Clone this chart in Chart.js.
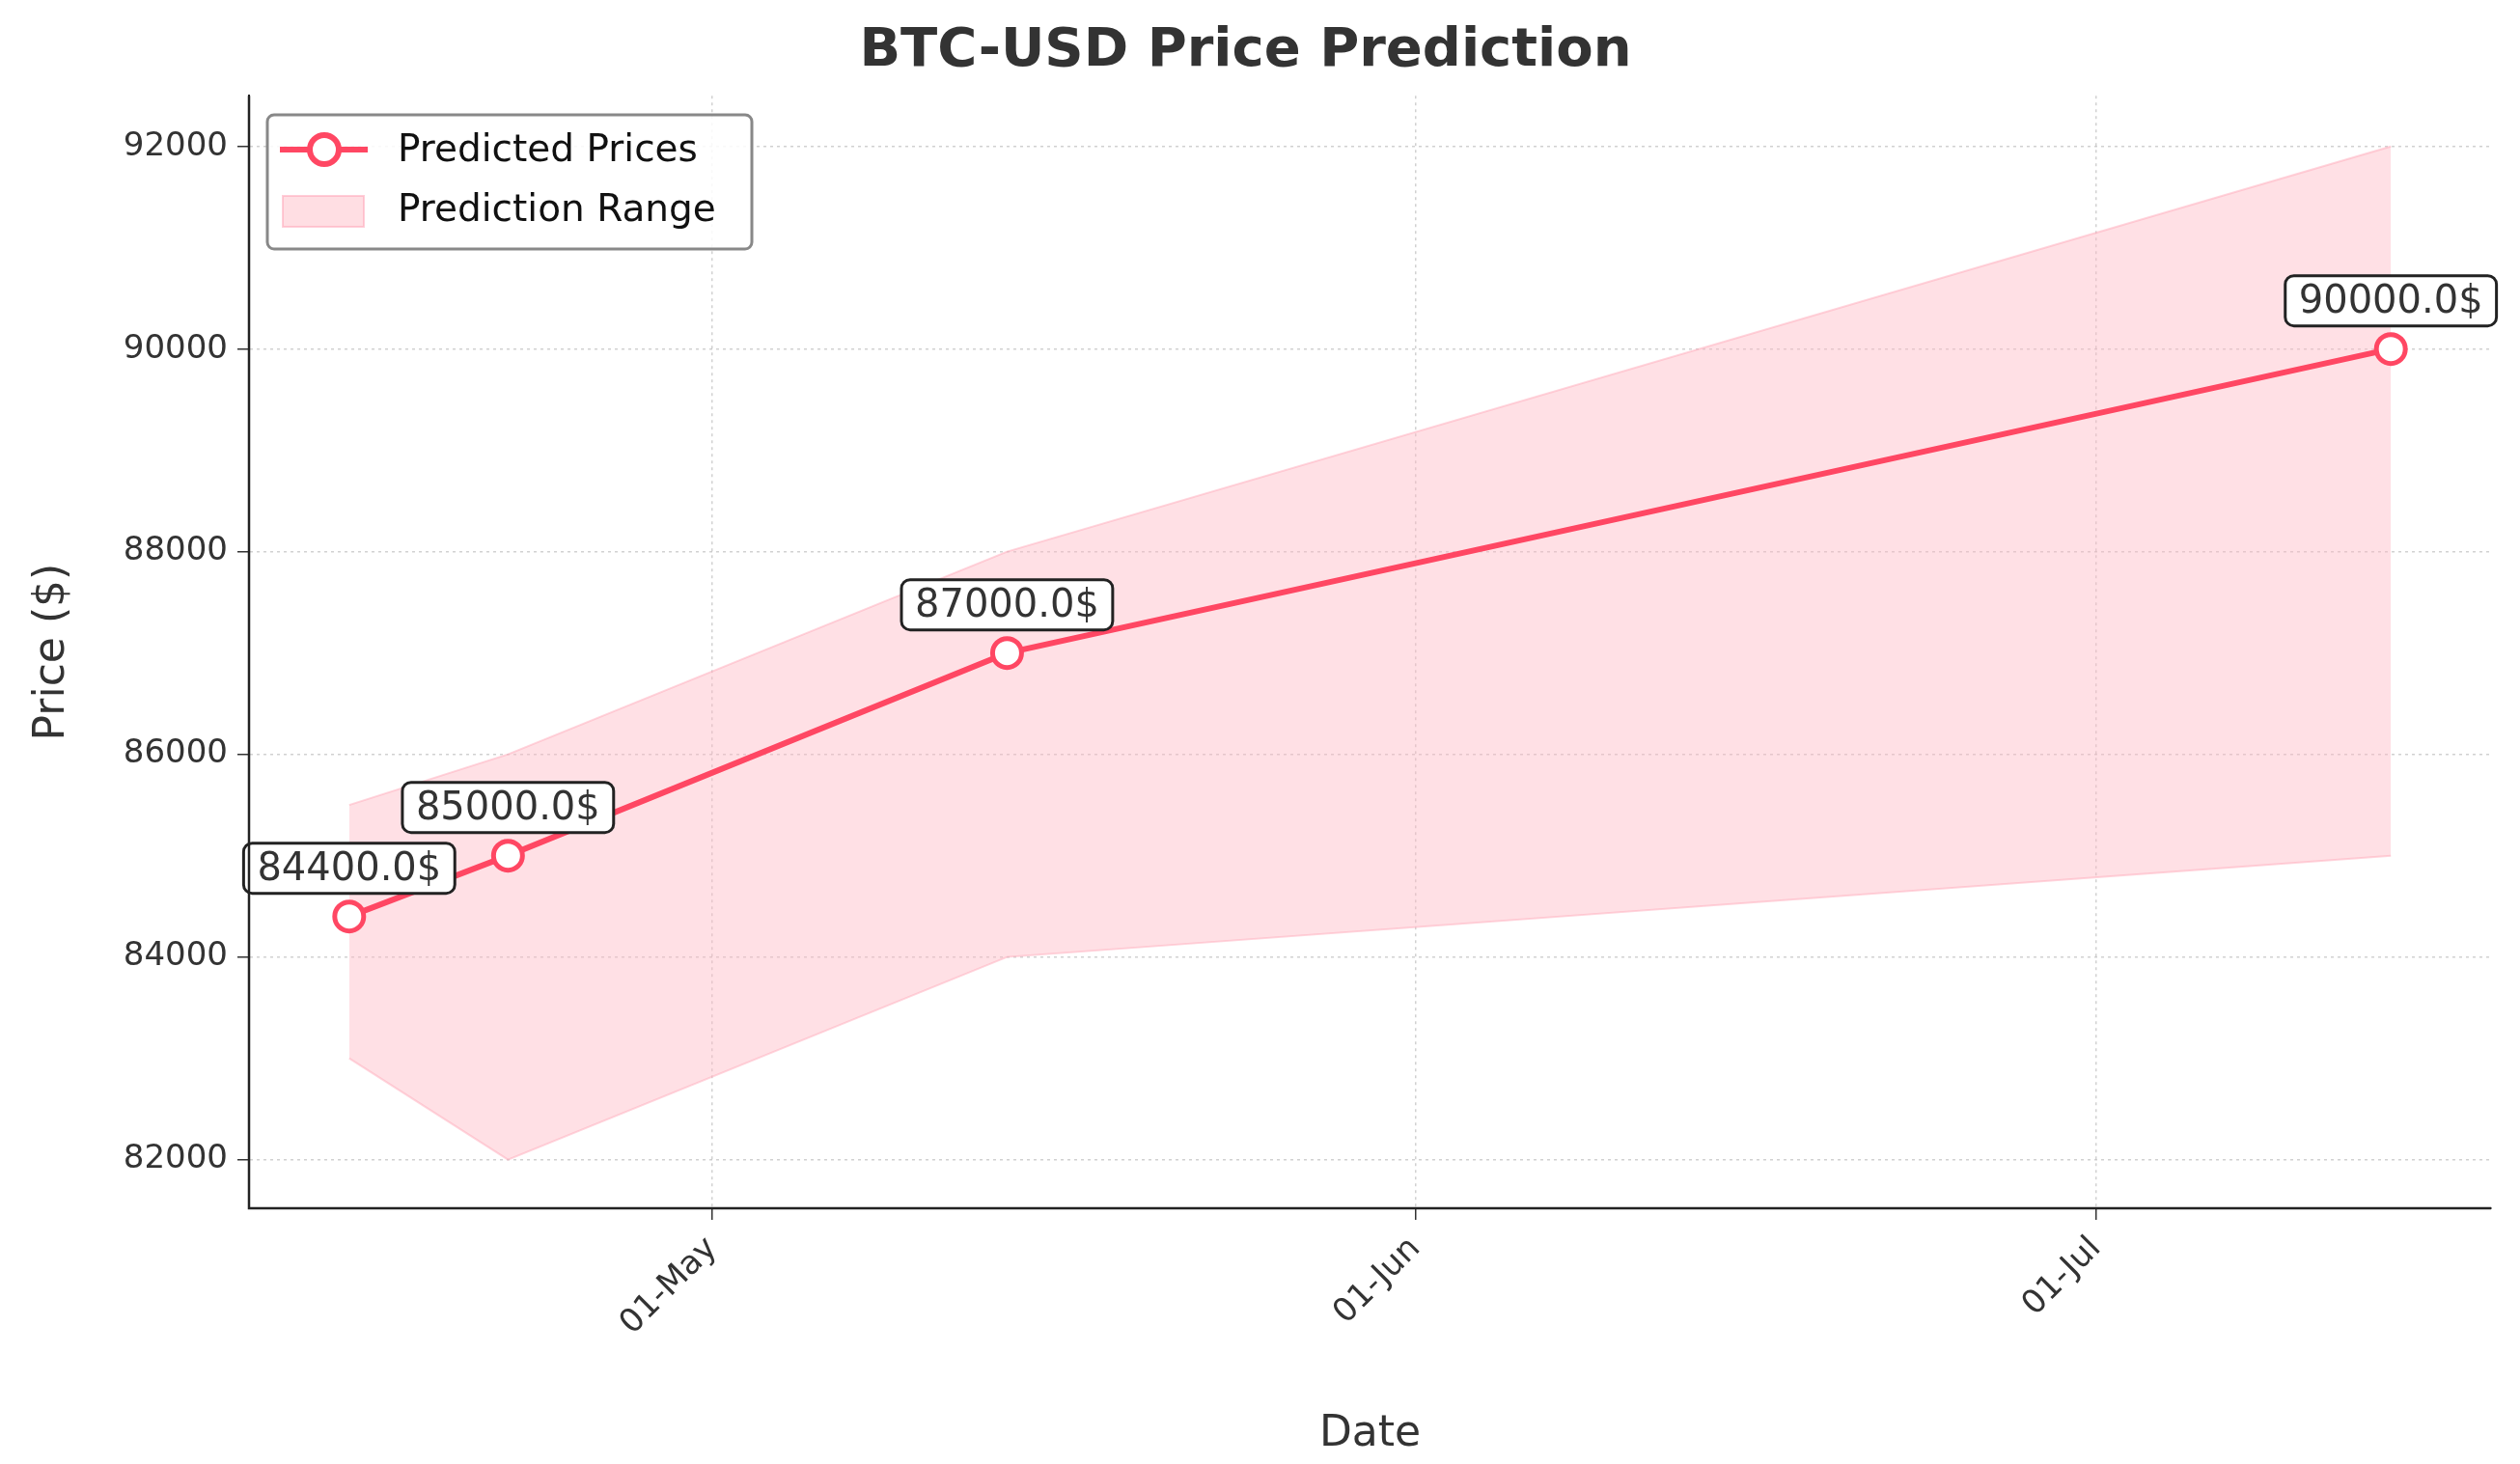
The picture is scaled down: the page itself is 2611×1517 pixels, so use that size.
<!DOCTYPE html>
<html><head><meta charset="utf-8">
<script src="https://cdn.jsdelivr.net/npm/chart.js@4/dist/chart.umd.min.js"></script>
<style>html,body{margin:0;padding:0;background:#fff}#w{width:2611px;height:1517px}</style>
</head><body><div id="w"><canvas id="c"></canvas></div>
<script>
const dates = ['2025-04-15','2025-04-22','2025-05-14','2025-07-14'];
const predicted = [84400, 85000, 87000, 90000];
const upper = [85500, 86000, 88000, 92000];
const lower = [83000, 82000, 84000, 85000];
const tickDates = ['2025-05-01','2025-06-01','2025-07-01'];
const tickLabels = ['01-May','01-Jun','01-Jul'];
const yTicks = [82000,84000,86000,88000,90000,92000];

const ts = d => Date.parse(d+'T00:00:00Z');
const xs = dates.map(ts);
const F = 'DejaVu Sans';
const txt = '#333';

const overlay = {
  id:'overlay',
  afterDatasetsDraw(chart){
    const ctx = chart.ctx, x = chart.scales.x, y = chart.scales.y;
    ctx.save();
    ctx.font = `40px "${F}"`;
    predicted.forEach((v,i)=>{
      const px = x.getPixelForValue(xs[i]), py = y.getPixelForValue(v);
      const s = v.toFixed(1)+'$';
      const w = ctx.measureText(s).width;
      const cx = px, cy = py - 50;
      const bw = w+28, bh = 52;
      ctx.beginPath();
      ctx.roundRect(cx-bw/2, cy-bh/2, bw, bh, 9);
      ctx.fillStyle='#fff'; ctx.fill();
      ctx.lineWidth=3; ctx.strokeStyle='#222'; ctx.stroke();
      ctx.fillStyle=txt; ctx.textAlign='center'; ctx.textBaseline='middle';
      ctx.fillText(s, cx, cy+2);
    });
    const lx=277, ly=119, lw=502, lh=139;
    ctx.beginPath(); ctx.roundRect(lx,ly,lw,lh,7);
    ctx.fillStyle='rgba(255,255,255,0.85)'; ctx.fill();
    ctx.strokeStyle='#888'; ctx.lineWidth=3; ctx.stroke();
    ctx.strokeStyle='#ff4763'; ctx.lineWidth=6;
    ctx.beginPath(); ctx.moveTo(290,155); ctx.lineTo(381,155); ctx.stroke();
    ctx.beginPath(); ctx.arc(336,155,15,0,Math.PI*2); ctx.fillStyle='#fff'; ctx.fill(); ctx.stroke();
    ctx.fillStyle='rgba(255,182,193,0.45)'; ctx.fillRect(293,203,84,32);
    ctx.strokeStyle='rgba(255,160,180,0.5)'; ctx.lineWidth=2; ctx.strokeRect(293,203,84,32);
    ctx.fillStyle='#111'; ctx.font=`39px "${F}"`; ctx.textAlign='left'; ctx.textBaseline='middle';
    ctx.fillText('Predicted Prices',412,157);
    ctx.fillText('Prediction Range',412,219);
    ctx.restore();
  }
};

new Chart(document.getElementById('c'),{
  type:'line',
  data:{datasets:[
    {label:'upper',data:xs.map((t,i)=>({x:t,y:upper[i]})),borderColor:'rgba(255,170,185,0.5)',borderWidth:2,pointRadius:0,fill:false,order:2},
    {label:'Prediction Range',data:xs.map((t,i)=>({x:t,y:lower[i]})),borderColor:'rgba(255,170,185,0.5)',borderWidth:2,pointRadius:0,fill:'-1',backgroundColor:'rgba(255,182,193,0.42)',order:2},
    {label:'Predicted Prices',data:xs.map((t,i)=>({x:t,y:predicted[i]})),borderColor:'#ff4763',borderWidth:6,pointRadius:15,pointBorderWidth:5,pointBackgroundColor:'#fff',pointBorderColor:'#ff4763',fill:false,order:1}
  ]},
  options:{
    responsive:true,maintainAspectRatio:false,animation:false,devicePixelRatio:1,
    layout:{padding:{left:0,right:30,top:0,bottom:0}},
    plugins:{legend:{display:false},tooltip:{enabled:false},
      title:{display:true,text:'BTC-USD Price Prediction',color:txt,font:{family:F,size:56,weight:'bold'},padding:{top:20,bottom:12}}},
    scales:{
      x:{type:'linear',min:ts('2025-04-10')+14*3600000,max:ts('2025-07-18')+10*3600000,
        afterBuildTicks(s){s.ticks=tickDates.map(d=>({value:ts(d)}));},
        afterFit(s){s.height=265;},
        ticks:{autoSkip:false,maxRotation:45,minRotation:45,color:txt,font:{family:F,size:34},padding:10,
          callback:(v)=>{const i=tickDates.map(ts).indexOf(v);return i>=0?tickLabels[i]:'';}},
        grid:{color:'rgba(0,0,0,0.18)',lineWidth:1.5,tickLength:12,tickColor:'#333'},
        border:{display:true,color:'#222',width:2,dash:[3,4]},
        title:{display:true,text:'Date',color:txt,font:{family:F,size:44},padding:{top:4}}},
      y:{min:81520,max:92500,
        afterBuildTicks(s){s.ticks=yTicks.map(v=>({value:v}));},
        afterFit(s){s.width=258;},
        ticks:{color:txt,font:{family:F,size:34},padding:10,callback:v=>String(v)},
        grid:{color:'rgba(0,0,0,0.18)',lineWidth:1.5,tickLength:12,tickColor:'#333'},
        border:{display:true,color:'#222',width:2,dash:[3,4]},
        title:{display:true,text:'Price ($)',color:txt,font:{family:F,size:44},padding:{top:28,bottom:10}}}
    }
  },
  plugins:[overlay,{id:'solidBorder',afterDraw(c){const a=c.chartArea,ctx=c.ctx;ctx.save();ctx.strokeStyle='#222';ctx.lineWidth=2.5;ctx.beginPath();ctx.moveTo(a.left,a.top);ctx.lineTo(a.left,a.bottom);ctx.lineTo(a.right,a.bottom);ctx.stroke();ctx.restore();}}]
});
</script></body></html>
